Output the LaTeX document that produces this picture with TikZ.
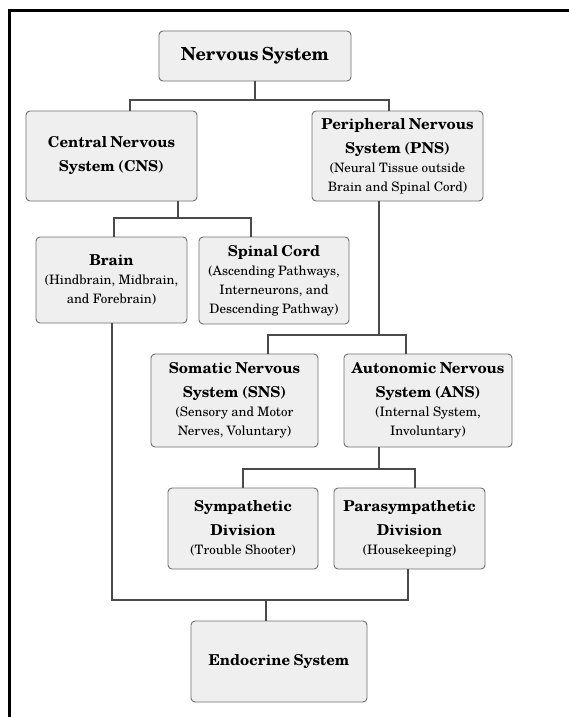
\documentclass[tikz,border=0pt]{standalone}
\usepackage{fontspec}
\setmainfont{TeX Gyre Schola}
\newcommand\ttl{\fontsize{15}{24}\selectfont\bfseries}
\newcommand\bigttl{\fontsize{18}{24}\selectfont\bfseries}
\newcommand\subf{\fontsize{13}{19}\selectfont\mdseries}
\definecolor{boxfill}{HTML}{EFEFEF}
\definecolor{boxline}{HTML}{707070}
\definecolor{conn}{HTML}{4A4A4A}
\tikzset{
  box/.style={draw=boxline, fill=boxfill, line width=0.9pt, rounded corners=4pt,
    align=center, inner xsep=1pt, inner ysep=0pt, anchor=center},
  wire/.style={draw=conn, line width=2pt},
}
\begin{document}
\begin{tikzpicture}[x=1pt,y=-1pt]
\useasboundingbox (0,0) rectangle (568,717);
\fill[white] (0,0) rectangle (568,717);
% frame
\draw[line width=2.6pt] (9.3,720) -- (9.3,10.5) -- (570,10.5);
% boxes
\node[box, text width=190pt, minimum height=50pt] (ns) at (255,56) {\bigttl Nervous System\par};
\node[box, text width=169pt, minimum height=90pt] (cns) at (111.5,156) {\ttl Central Nervous\\System (CNS)\par};
\node[box, text width=169pt, minimum height=90pt] (pns) at (397.5,156) {{\ttl Peripheral Nervous\\System (PNS)\par}{\subf (Neural Tissue outside\\Brain and Spinal Cord)\par}};
\node[box, text width=149pt, minimum height=86pt] (brain) at (111.5,280) {{\ttl Brain\par}{\subf (Hindbrain, Midbrain,\\and Forebrain)\par}};
\node[box, text width=148pt, minimum height=87pt] (spinal) at (274,280.5) {{\ttl Spinal Cord\par}{\subf (Ascending Pathways,\\Interneurons, and\\Descending Pathway)\par}};
\node[box, text width=165pt, minimum height=93pt] (sns) at (234.5,400.5) {{\ttl Somatic Nervous\\System (SNS)\par}{\subf (Sensory and Motor\\Nerves, Voluntary)\par}};
\node[box, text width=166pt, minimum height=93pt] (ans) at (428,400.5) {{\ttl Autonomic Nervous\\System (ANS)\par}{\subf (Internal System,\\Involuntary)\par}};
\node[box, text width=148pt, minimum height=81pt] (symp) at (243,528.5) {{\ttl Sympathetic\\Division\par}{\subf (Trouble Shooter)\par}};
\node[box, text width=149pt, minimum height=81pt] (para) at (409.5,528.5) {{\ttl Parasympathetic\\Division\par}{\subf (Housekeeping)\par}};
\node[box, text width=174pt, minimum height=81pt] (endo) at (279,661.5) {\ttl Endocrine System\par};
% junction coordinates
\coordinate (a1) at (130,100);
\coordinate (a2) at (389,100);
\coordinate (b0) at (178,218);
\coordinate (b1) at (114,218);
\coordinate (b2) at (251,218);
\coordinate (c0) at (379,335);
\coordinate (c1) at (268,335);
\coordinate (c2) at (406,335);
\coordinate (d0) at (379,469);
\coordinate (d1) at (243,469);
\coordinate (d2) at (415,469);
\coordinate (e1) at (112,600);
\coordinate (e2) at (408,600);
\coordinate (e0) at (266,600);
% connectors
\draw[wire] (ns.south) -- (ns.south |- a1);
\draw[wire] (cns.north -| a1) -- (a1) -- (a2) -- (pns.north -| a2);
\draw[wire] (cns.south -| b0) -- (b0);
\draw[wire] (brain.north -| b1) -- (b1) -- (b2) -- (spinal.north -| b2);
\draw[wire] (pns.south -| c0) -- (c0);
\draw[wire] (sns.north -| c1) -- (c1) -- (c2) -- (ans.north -| c2);
\draw[wire] (ans.south -| d0) -- (d0);
\draw[wire] (symp.north -| d1) -- (d1) -- (d2) -- (para.north -| d2);
\draw[wire] (brain.south -| e1) -- (e1) -- (e2) -- (para.south -| e2);
\draw[wire] (e0) -- (endo.north -| e0);
\end{tikzpicture}
\end{document}
